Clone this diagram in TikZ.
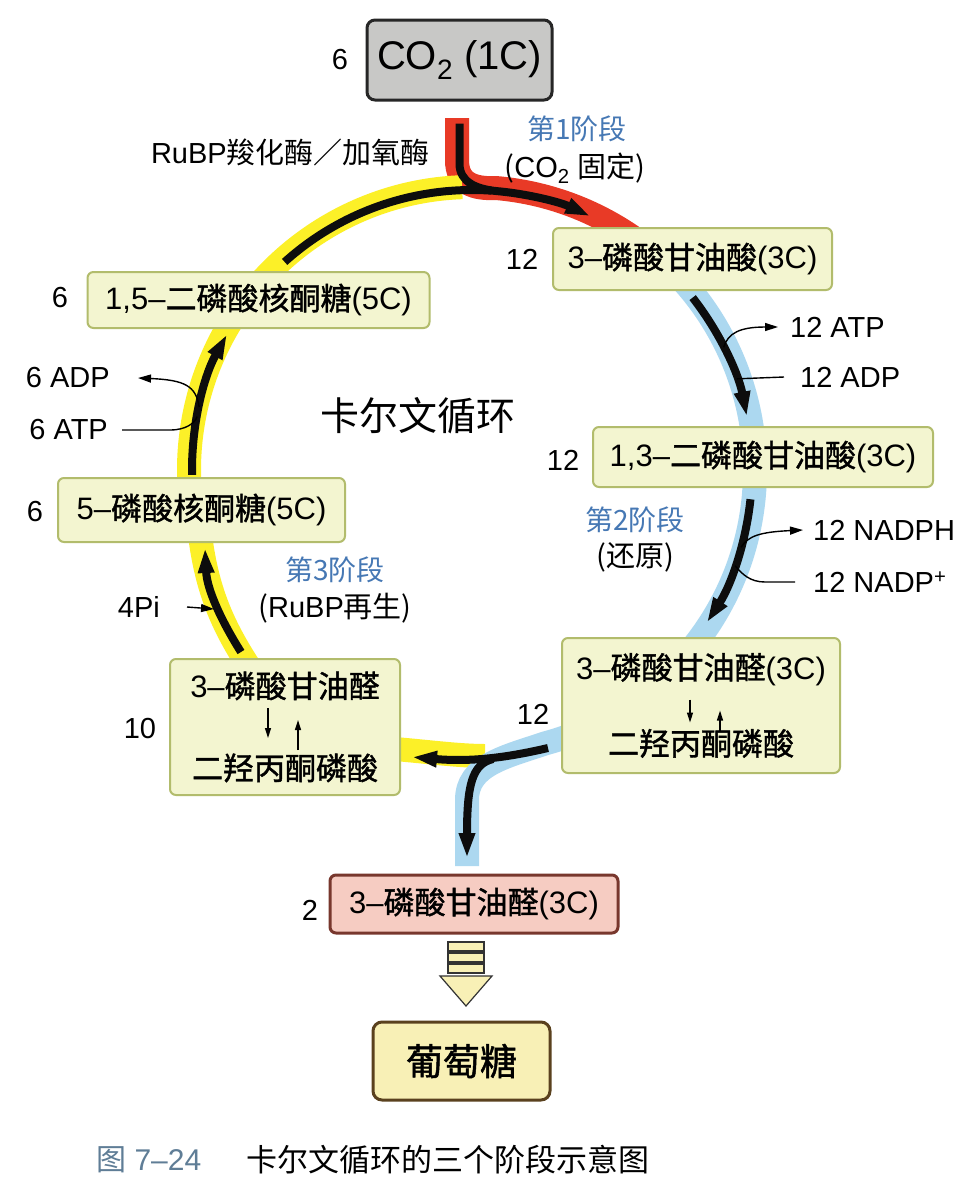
\documentclass[tikz,border=0pt]{standalone}
\usepackage{fontspec}
\setmainfont{Liberation Sans}
\newfontfamily\zh{Noto Sans CJK SC}
\newfontfamily\zhb{Noto Sans CJK SC}[FakeBold=1.3]
\usetikzlibrary{arrows.meta,calc}

\definecolor{cellfill}{RGB}{243,245,208}
\definecolor{celledge}{RGB}{178,188,108}
\definecolor{cofill}{RGB}{200,200,198}
\definecolor{pinkfill}{RGB}{246,204,194}
\definecolor{pinkedge}{RGB}{120,55,45}
\definecolor{glufill}{RGB}{248,240,182}
\definecolor{gluedge}{RGB}{90,65,30}
\definecolor{bandred}{RGB}{232,58,38}
\definecolor{bandyel}{RGB}{252,240,40}
\definecolor{bandblue}{RGB}{172,216,240}
\definecolor{stagetext}{RGB}{70,120,180}
\definecolor{figno}{RGB}{95,125,150}

\tikzset{
  cell/.style={draw=celledge, fill=cellfill, line width=2pt, rounded corners=6pt,
    inner sep=0pt, align=center, font=\fontsize{31}{36}\selectfont},
  cobox/.style={draw=black!85, fill=cofill, line width=3pt, rounded corners=8pt,
    inner sep=0pt, minimum width=185pt, minimum height=80pt, font=\fontsize{40}{44}\selectfont},
  pinkbox/.style={cell, draw=pinkedge, fill=pinkfill, line width=3pt},
  glubox/.style={cell, draw=gluedge, fill=glufill, line width=3pt, rounded corners=9pt,
    font=\zhb\fontsize{37}{40}\selectfont},
  tally/.style={inner sep=0pt, font=\fontsize{29}{32}\selectfont},
  side/.style={inner sep=0pt, font=\fontsize{29}{32}\selectfont},
  stagelbl/.style={inner sep=0pt, text=stagetext, font=\zh\fontsize{28}{30}\selectfont},
  band/.style={line width=24pt},
  cycleline/.style={draw=black!95, line width=8pt},
  flow/.style={cycleline, -{Triangle[length=25pt,width=15pt]}},
  sidearrow/.style={line width=1.4pt},
  smalltip/.style={-{Triangle[length=13pt,width=8pt]}},
  inarrow/.style={line width=1.5pt, -{Triangle[length=10pt,width=6pt]}},
}

\begin{document}
\begin{tikzpicture}[x=1pt, y=-1pt]
    \useasboundingbox (0,0) rectangle (967,1200);
    \fill[white] (0,0) rectangle (967,1200);

    % points on the cycle
    \coordinate (C) at (472,470);
    \foreach \a in {11,19,26,38,65,85,86,132,151,167,169,181,327,340,344,354}
        \coordinate (p\a) at ($(C)+(-\a:280)$);
    \foreach \a in {50,55,85,92,185,285}
        \coordinate (q\a) at ($(C)+(-\a:283)$);

    % coloured bands of the three stages
    \draw[band, draw=bandred] (457,118) -- (457,160) .. controls (457,184) and (474,189) .. (q85)
        arc[start angle=-85, end angle=-55, radius=283];
    \draw[band, draw=bandyel] (q92) arc[start angle=-92, end angle=-185, radius=283];
    \draw[band, draw=bandyel] (200,535) .. controls (207,590) and (222,625) .. (250,668);
    \draw[band, draw=bandyel] (395,749) .. controls (430,752) and (460,756) .. (485,756);
    \draw[band, draw=bandblue] (q50) arc[start angle=-50, end angle=75, radius=283]
        .. controls (505,757) and (467,765) .. (467,800) -- (467,866);

    % boxes
    \node[cobox] (co2) at (459.5,60) {CO\textsubscript{2} (1C)};
    \node[cell, minimum width=279pt, minimum height=62pt] (pga) at (692.5,259) {3–{\zhb 磷酸甘油酸}(3C)};
    \node[cell, minimum width=342pt, minimum height=56pt] (rubp) at (258.5,300) {1,5–{\zhb 二磷酸核酮糖}(5C)};
    \node[cell, minimum width=340pt, minimum height=60pt] (bpg) at (763,457) {1,3–{\zhb 二磷酸甘油酸}(3C)};
    \node[cell, minimum width=287pt, minimum height=64pt] (rup) at (201.5,510) {5–{\zhb 磷酸核酮糖}(5C)};
    \node[cell, minimum width=230pt, minimum height=136pt] (trileft) at (285,727)
        {3–{\zhb 磷酸甘油醛}\\[46pt]{\zhb 二羟丙酮磷酸}};
    \node[cell, minimum width=278pt, minimum height=135pt] (triright) at (701,705.5)
        {3–{\zhb 磷酸甘油醛}(3C)\\[40pt]{\zhb 二羟丙酮磷酸}};
    \node[pinkbox, minimum width=288pt, minimum height=58pt] (g3p) at (474,904) {3–{\zhb 磷酸甘油醛}(3C)};
    \node[glubox, minimum width=177pt, minimum height=78pt] (glu) at (461.5,1061) {葡萄糖};

    % counts
    \node[tally] (nco2) at (340,60) {6};
    \node[tally] (npga) at (522,259) {12};
    \node[tally] (nrubp) at (60,298) {6};
    \node[tally] (nbpg) at (563,460) {12};
    \node[tally] (nrup) at (35,512) {6};
    \node[tally] (ntrileft) at (140,729) {10};
    \node[tally] (ntriright) at (533,714) {12};
    \node[tally] (ng3p) at (310,910) {2};

    % the cycle
    \draw[flow] ([yshift=-22pt]co2.south) -- ++(0,40) .. controls (459.5,182) and (476,189) .. (p85)
        arc[start angle=-85, end angle=-65, radius=280];
    \draw[cycleline] (p132) arc[start angle=-132, end angle=-86, radius=280];
    \draw[flow] (p38) arc[start angle=-38, end angle=-11, radius=280];
    \draw[flow] (p354) arc[start angle=-354, end angle=-327, radius=280];
    \coordinate (botR) at (548,748);
    \coordinate (junc) at (493,759);
    \coordinate (botL) at (412,757);
    \coordinate (down) at (467,858);
    \draw[flow] (botR) .. controls (505,758) and (470,762) .. (botL);
    \draw[flow] (junc) .. controls (472,764) and (467,785) .. (down);
    \coordinate (lowL) at (241,652);
    \coordinate (midL) at (205,548);
    \coordinate (pijoin) at (214,609);
    \draw[flow] (lowL) .. controls (222,622) and (207,590) .. (midL);
    \draw[flow] (p181) arc[start angle=-181, end angle=-151, radius=280];

    % inside the triose boxes
    \draw[inarrow] ($(trileft)+(-17,-19)$) -- ($(trileft)+(-17,11)$);
    \draw[inarrow] ($(trileft)+(13,23)$) -- ($(trileft)+(13,-7)$);
    \draw[inarrow] ($(triright)+(-11,-6)$) -- ($(triright)+(-11,17)$);
    \draw[inarrow] ($(triright)+(19,25)$) -- ($(triright)+(19,5)$);

    % hollow arrow to glucose
    \foreach \y in {942,953,964}
        \filldraw[fill=glufill, draw=black!80, line width=1.2pt] (448,\y) rectangle (484,\y+9);
    \filldraw[fill=glufill, draw=black!80, line width=1.2pt] (440,976) -- (492,976) -- (466,1006) -- cycle;

    % side labels
    \node[side, anchor=east] (rubisco) at (430,152) {RuBP{\zh 羧化酶／加氧酶}};
    \node[stagelbl] (st1) at (577,129) {第1阶段};
    \node[side] (st1b) at (575,168) {{\zh (}CO\textsubscript{2} {\zh 固定)}};
    \node[inner sep=0pt, font=\zh\fontsize{39}{42}\selectfont] (calvin) at (418,416) {卡尔文循环};
    \node[stagelbl] (st2) at (635,520) {第2阶段};
    \node[side] (st2b) at (635,557) {\zh (还原)};
    \node[stagelbl] (st3) at (335,570) {第3阶段};
    \node[side] (st3b) at (335,608) {{\zh (}RuBP{\zh 再生)}};

    \node[side, anchor=west] (atpR) at (790,327) {12 ATP};
    \node[side, anchor=west] (adpR) at (800,377) {12 ADP};
    \node[side, anchor=west] (nadph) at (813,530) {12 NADPH};
    \node[side, anchor=west] (nadp) at (813,582) {12 NADP\textsuperscript{+}};
    \node[side, anchor=east] (adpL) at (110,378) {6 ADP};
    \node[side, anchor=east] (atpL) at (108,430) {6 ATP};
    \node[side, anchor=east] (pi) at (160,607) {4Pi};

    % energy in and out
    \draw[sidearrow, smalltip] (p26) .. controls (728,333) and (740,327) .. ([xshift=-12pt]atpR.west);
    \draw[sidearrow] ([xshift=-16pt]adpR.west) -- (p19);
    \draw[sidearrow, smalltip] (p344) .. controls (748,536) and (760,532) .. ([xshift=-10pt]nadph.west);
    \draw[sidearrow] ([xshift=-18pt]nadp.west) -- (765,582) .. controls (750,582) and (742,574) .. (p340);
    \draw[sidearrow, smalltip] (p167) .. controls (196,386) and (185,380) .. ([xshift=28pt]adpL.east);
    \draw[sidearrow] ([xshift=14pt]atpL.east) -- (170,430) .. controls (186,430) and (195,423) .. (p169);
    \draw[sidearrow, smalltip] ([xshift=27pt]pi.east) -- (pijoin);

    % caption
    \node[anchor=west, inner sep=0pt, text=figno, font=\fontsize{30}{32}\selectfont] (figtag) at (96,1160)
        {{\zh 图} 7–24};
    \node[anchor=west, inner sep=0pt, font=\zh\fontsize{31}{33}\selectfont] (caption) at (246,1160)
        {卡尔文循环的三个阶段示意图};
\end{tikzpicture}
\end{document}
